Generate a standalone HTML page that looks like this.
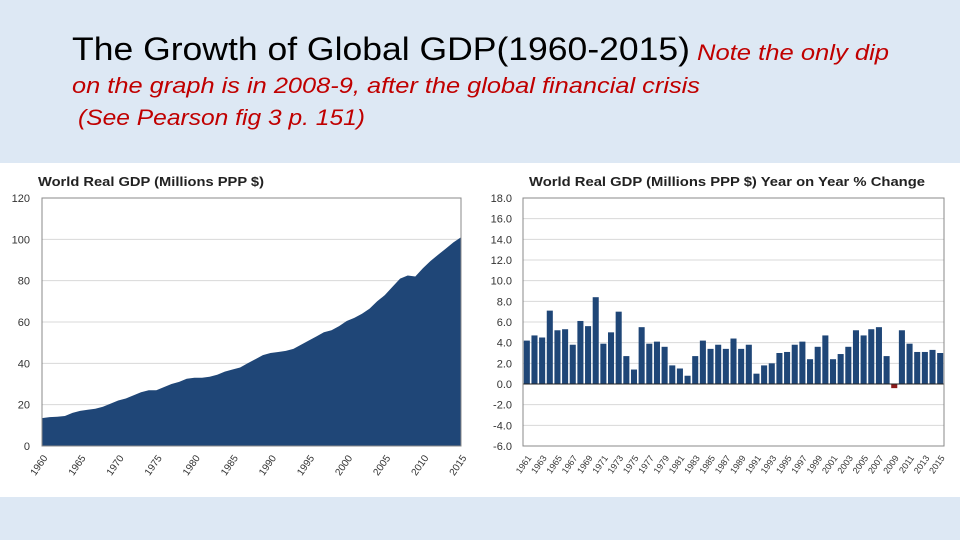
<!DOCTYPE html>
<html><head><meta charset="utf-8"><style>
body{margin:0;background:#dde8f4;}
svg{display:block;font-family:"Liberation Sans",sans-serif;}
</style></head><body>
<svg id="s" width="960" height="540" viewBox="0 0 960 540">
<rect x="0" y="0" width="960" height="540" fill="#dde8f4"/>
<text x="72" y="60" font-size="32" fill="#000" textLength="618" lengthAdjust="spacingAndGlyphs">The Growth of Global GDP(1960-2015)</text>
<text x="697" y="60" font-size="22" font-style="italic" fill="#c00000" textLength="192" lengthAdjust="spacingAndGlyphs">Note the only dip</text>
<text x="72" y="93" font-size="22" font-style="italic" fill="#c00000" textLength="628" lengthAdjust="spacingAndGlyphs">on the graph is in 2008-9, after the global financial crisis</text>
<text x="78" y="125" font-size="22" font-style="italic" fill="#c00000" textLength="287" lengthAdjust="spacingAndGlyphs">(See Pearson fig 3 p. 151)</text>
<rect x="0" y="163" width="960" height="334" fill="#fff"/>
<text x="38" y="186" font-size="13" font-weight="bold" fill="#222" textLength="226" lengthAdjust="spacingAndGlyphs">World Real GDP (Millions PPP $)</text>
<text x="529" y="186" font-size="13" font-weight="bold" fill="#222" textLength="396" lengthAdjust="spacingAndGlyphs">World Real GDP (Millions PPP $) Year on Year % Change</text>
<g id="left"></g><g id="right"></g>
</svg>
<script>
const gdpYears=[];for(let y=1960;y<=2015;y++)gdpYears.push(y);
const gdpValues=[13.5,14,14.2,14.5,16,17,17.5,18,19,20.5,22,23,24.5,26,27,27,28.5,30,31,32.5,33,33,33.5,34.5,36,37,38,40,42,44,45,45.5,46,47,49,51,53,55,56,58,60.5,62,64,66.5,70,73,77,81,82.5,82,86,89.5,92.5,95.5,98.5,101];
const gdpTicks=[0,20,40,60,80,100,120];
const gdpXLabels=[1960,1965,1970,1975,1980,1985,1990,1995,2000,2005,2010,2015];
const chgYears=[];for(let y=1961;y<=2015;y++)chgYears.push(y);
const chgValues=[4.2,4.7,4.5,7.1,5.2,5.3,3.8,6.1,5.6,8.4,3.9,5.0,7.0,2.7,1.4,5.5,3.9,4.1,3.6,1.8,1.5,0.8,2.7,4.2,3.4,3.8,3.4,4.4,3.4,3.8,1.0,1.8,2.0,3.0,3.1,3.8,4.1,2.4,3.6,4.7,2.4,2.9,3.6,5.2,4.7,5.3,5.5,2.7,-0.4,5.2,3.9,3.1,3.1,3.3,3.0];
const chgTicks=[-6,-4,-2,0,2,4,6,8,10,12,14,16,18];
const NS="http://www.w3.org/2000/svg";
function mk(p,t,a){const e=document.createElementNS(NS,t);for(const k in a)e.setAttribute(k,a[k]);p.appendChild(e);return e;}
// left
(function(){
const g=document.getElementById('left');
const x0=42,x1=461,yT=198,yB=446;
const xs=y=>x0+(y-1960)/(2015-1960)*(x1-x0);
const ys=v=>yB-(v/120)*(yB-yT);
gdpTicks.forEach(t=>{
 const l=mk(g,'line',{x1:x0,x2:x1,y1:ys(t),y2:ys(t),stroke:'#d8d8d8','stroke-width':1});
 
 
 const tx=mk(g,'text',{x:30,y:ys(t)+4,'font-size':11,'text-anchor':'end',fill:'#333'});
 tx.textContent=t;
 
 
});
let d='M'+xs(1960)+','+yB;
gdpValues.forEach((v,i)=>{d+=' L'+xs(gdpYears[i]).toFixed(1)+','+ys(v).toFixed(1);});
d+=' L'+xs(2015)+','+yB+' Z';
const a=mk(g,'path',{d:d,fill:'#1f4677'});


const f=mk(g,'rect',{x:x0,y:yT,width:x1-x0,height:yB-yT,fill:'none',stroke:'#888','stroke-width':1});


gdpXLabels.forEach(y=>{
 const tx=mk(g,'text',{x:xs(y)+6,y:yB+12,'font-size':10,'text-anchor':'end',fill:'#333',transform:'rotate(-55 '+(xs(y)+6)+' '+(yB+12)+')'});
 tx.textContent=y;
 
 
});
})();
// right
(function(){
const g=document.getElementById('right');
const x0=523,x1=944,yT=198,yB=446;
const ys=v=>yB-((v+6)/24)*(yB-yT);
const n=chgValues.length,bw=(x1-x0)/n;
chgTicks.forEach(t=>{
 const l=mk(g,'line',{x1:x0,x2:x1,y1:ys(t),y2:ys(t),stroke:'#d8d8d8','stroke-width':1});
 
 
 const tx=mk(g,'text',{x:512,y:ys(t)+4,'font-size':11,'text-anchor':'end',fill:'#333'});
 tx.textContent=t.toFixed(1);
 
 
});
chgValues.forEach((v,i)=>{
 const top=Math.min(ys(v),ys(0)),h=Math.abs(ys(v)-ys(0));
 const r=mk(g,'rect',{x:x0+i*bw+0.8,y:top,width:bw-1.6,height:h,fill:v<0?'#8b1a1a':'#1f4677'});
 
 
});
const z=mk(g,'line',{x1:x0,x2:x1,y1:ys(0),y2:ys(0),stroke:'#222','stroke-width':1});


const f=mk(g,'rect',{x:x0,y:yT,width:x1-x0,height:yB-yT,fill:'none',stroke:'#888','stroke-width':1});


chgYears.forEach((y,i)=>{
 if(i%2)return;
 const cx=x0+(i+0.5)*bw+5;
 const tx=mk(g,'text',{x:cx,y:yB+12,'font-size':9,'text-anchor':'end',fill:'#333',transform:'rotate(-55 '+cx+' '+(yB+12)+')'});
 tx.textContent=y;
 
 
});
})();
</script>
</body></html>
